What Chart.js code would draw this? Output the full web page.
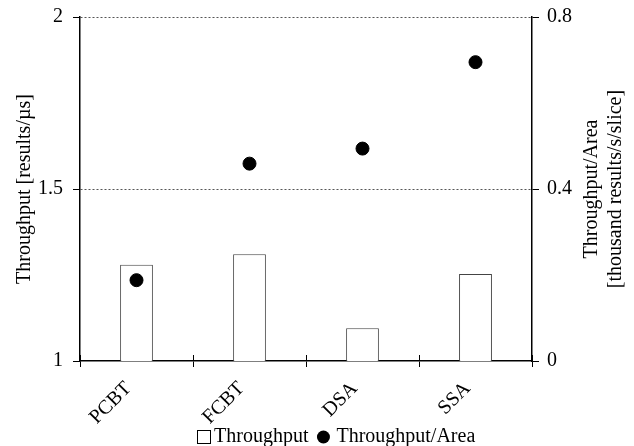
<!DOCTYPE html>
<html>
<head>
<meta charset="utf-8">
<script src="https://cdn.jsdelivr.net/npm/chart.js@4"></script>
<style>
  html, body { margin: 0; padding: 0; background: #fff; }
  #wrap { width: 634px; height: 446px; }
</style>
</head>
<body>
<div id="wrap"><canvas id="mixed_chart" width="634" height="446"></canvas></div>
<script>
// values
var designs = ["PCBT", "FCBT", "DSA", "SSA"];
var throughput = [1.28, 1.31, 1.095, 1.253];        // results/us (left axis)
var throughputPerArea = [0.188, 0.459, 0.494, 0.695]; // thousand results/s/slice (right axis)
var leftTicks = [1, 1.5, 2];
var rightTicks = [0, 0.4, 0.8];
var legendLabels = ["Throughput", "Throughput/Area"];
var rightTitle = ["Throughput/Area", "[thousand results/s/slice]"];

Chart.defaults.font.family = "'Liberation Serif', 'Times New Roman', serif";
Chart.defaults.font.size = 20;
Chart.defaults.color = "#000";

// small inner tick marks on the category axis (they cross the axis line)
var innerTicks = {
    id: 'innerTicks',
    afterDatasetsDraw: function(chart) {
        var x = chart.scales.x, ctx = chart.ctx;
        var step = x.width / designs.length;
        ctx.save();
        ctx.strokeStyle = "#000";
        ctx.lineWidth = 1;
        for (var i = 0; i <= designs.length; i++) {
            var px = Math.round(x.left + i * step) + 0.5;
            ctx.beginPath();
            ctx.moveTo(px, x.top - 6);
            ctx.lineTo(px, x.top);
            ctx.stroke();
        }
        ctx.restore();
    }
};

// right axis title reads bottom-to-top, like the left one
var rightAxisTitle = {
    id: 'rightAxisTitle',
    afterDraw: function(chart) {
        var y2 = chart.scales.y2, ctx = chart.ctx;
        var cy = (chart.chartArea.top + chart.chartArea.bottom) / 2;
        ctx.save();
        ctx.fillStyle = "#000";
        ctx.font = "20px 'Liberation Serif'";
        ctx.textAlign = "center";
        ctx.textBaseline = "middle";
        rightTitle.forEach(function(line, i) {
            ctx.save();
            ctx.translate(y2.left + 60 + i * 24, cy);
            ctx.rotate(-Math.PI / 2);
            ctx.fillText(line, 0, 0);
            ctx.restore();
        });
        ctx.restore();
    }
};

// legend under the axis labels
var bottomLegend = {
    id: 'bottomLegend',
    afterDraw: function(chart) {
        var ctx = chart.ctx;
        var x0 = chart.chartArea.left + 117;
        var y = 437;
        ctx.save();
        ctx.font = "20px 'Liberation Serif'";
        ctx.fillStyle = "#000";
        ctx.textBaseline = "middle";
        ctx.strokeStyle = "#000";
        ctx.lineWidth = 1;
        ctx.strokeRect(x0 + 0.5, y - 6.5, 13, 13);
        ctx.fillText(legendLabels[0], x0 + 17, y);
        var x1 = x0 + 17 + ctx.measureText(legendLabels[0]).width + 15;
        ctx.beginPath();
        ctx.arc(x1, y, 6.5, 0, Math.PI * 2);
        ctx.fill();
        ctx.fillText(legendLabels[1], x1 + 13, y);
        ctx.restore();
    }
};

var ctx = document.getElementById('mixed_chart').getContext('2d');
var myChart = new Chart(ctx, {
    data: {
        labels: designs,
        datasets: [
            {
                type: 'line',
                label: legendLabels[1],
                data: throughputPerArea,
                yAxisID: 'y2',
                showLine: false,
                pointRadius: 6.5,
                pointHoverRadius: 6.5,
                pointBackgroundColor: "#000",
                pointBorderColor: "#000",
                order: 1
            },
            {
                type: 'bar',
                label: legendLabels[0],
                data: throughput,
                yAxisID: 'y',
                backgroundColor: "#fff",
                borderColor: "#444",
                borderWidth: 1,
                barPercentage: 0.29,
                categoryPercentage: 1,
                order: 2
            }
        ]
    },
    options: {
        responsive: false,
        animation: false,
        layout: { padding: { top: 17, left: 0, right: 0, bottom: 0 } },
        plugins: {
            legend: { display: false },
            tooltip: { enabled: false }
        },
        scales: {
            x: {
                offset: true,
                grid: { offset: true, drawOnChartArea: false, tickLength: 6, color: "#000", tickColor: "#000" },
                border: { color: "#000", width: 1.5 },
                ticks: { minRotation: 45, maxRotation: 45, padding: 10, labelOffset: -8, color: "#000" },
                afterFit: function(s) { s.height = 85; }
            },
            y: {
                position: 'left',
                min: 1,
                max: 2,
                afterBuildTicks: function(s) { s.ticks = leftTicks.map(function(v) { return { value: v }; }); },
                ticks: { padding: 10, color: "#000", callback: function(v) { return String(v); } },
                grid: {
                    color: function(c) { return c.tick && c.tick.value === leftTicks[0] ? "rgba(0,0,0,0)" : "#555"; },
                    lineWidth: 1,
                    tickLength: 7,
                    tickColor: "#000"
                },
                border: { color: "#000", width: 1.5, dash: [2, 2] },
                title: { display: true, text: 'Throughput [results/\u00b5s]', color: "#000", padding: { top: 13, bottom: 0 } },
                afterFit: function(s) { s.width = 80; s.paddingTop = 0; s.paddingBottom = 0; }
            },
            y2: {
                position: 'right',
                min: 0,
                max: 0.8,
                afterBuildTicks: function(s) { s.ticks = rightTicks.map(function(v) { return { value: v }; }); },
                ticks: { padding: 8, color: "#000", callback: function(v) { return String(v); } },
                grid: { drawOnChartArea: false, tickLength: 7, tickColor: "#000", color: "#000" },
                border: { color: "#000", width: 1.5 },
                afterFit: function(s) { s.width = 102; s.paddingTop = 0; s.paddingBottom = 0; }
            }
        }
    },
    plugins: [innerTicks, rightAxisTitle, bottomLegend]
});
</script>
</body>
</html>
